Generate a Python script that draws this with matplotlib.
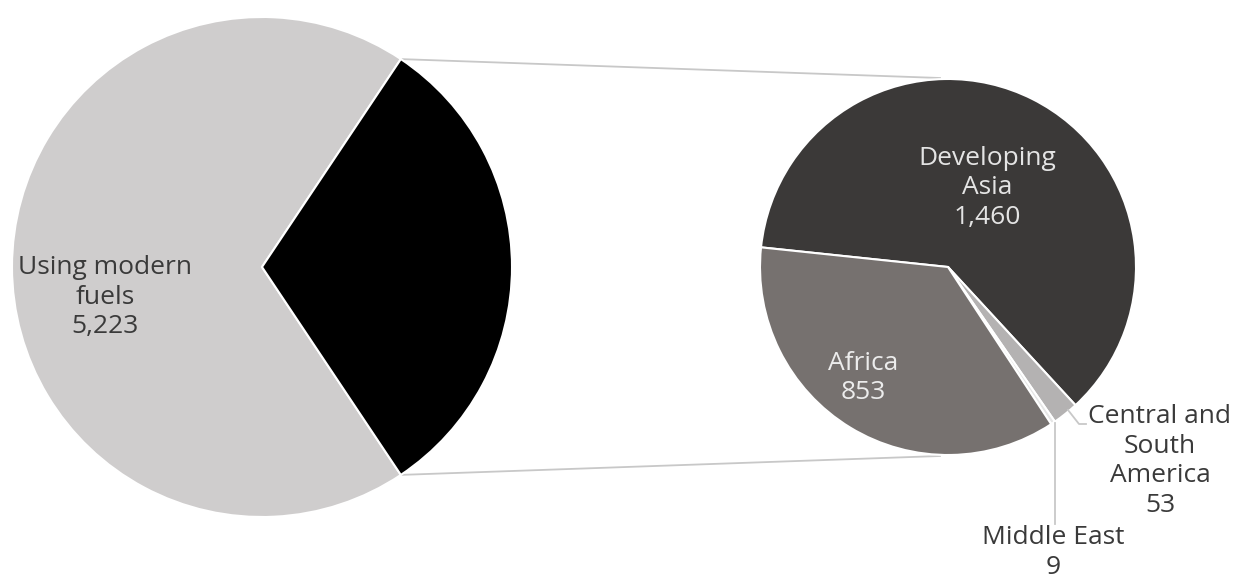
import numpy as np
import matplotlib
matplotlib.use("Agg")
import matplotlib.pyplot as plt

# people using modern fuels vs. relying on traditional biomass (millions)
regions = ["Developing Asia", "Central and South America", "Middle East", "Africa"]
region_values = [1460, 53, 9, 853]
modern_value = 5223

main_colors = ["#cfcdcd", "#000000"]
region_colors = ["#3b3938", "#b4b2b2", "#e6e6e6", "#76716f"]

W, H = 1236, 582
plt.rcParams["font.family"] = ["Open Sans", "DejaVu Sans"]

fig = plt.figure(figsize=(W / 100, H / 100), dpi=100)
ax = fig.add_axes([0, 0, 1, 1])

# left pie: modern fuels vs. the rest, the rest centred on the right side
rest = sum(region_values)
total = modern_value + rest
half = 180.0 * rest / total
c1, r1 = (262, H - 267), 250
ax.pie([modern_value, rest], colors=main_colors, startangle=half,
       center=c1, radius=r1, frame=True,
       wedgeprops=dict(edgecolor="white", linewidth=1.5))

# right pie: breakdown of the rest by region
c2, r2 = (948, H - 267), 188
ax.pie(region_values, colors=region_colors, startangle=174, counterclock=False,
       center=c2, radius=r2, frame=True,
       wedgeprops=dict(edgecolor="white", linewidth=1.5))
ax.set_xlim(0, W)
ax.set_ylim(0, H)
ax.set_aspect("equal")
ax.axis("off")

# connector lines from the black wedge to the top and bottom of the right pie
a = np.deg2rad(half)
for s in (1, -1):
    x0 = c1[0] + r1 * np.cos(a)
    y0 = c1[1] + s * r1 * np.sin(a)
    x1 = c2[0] - 8
    y1 = c2[1] + s * (r2 + 1)
    ax.plot([x0, x1], [y0, y1], color="#c8c8c8", lw=1.3, zorder=0)

fs = 19
ls = 1.25
ax.text(105, H - 297, "Using modern\nfuels\n" + f"{modern_value:,}", ha="center", va="center",
        fontsize=fs, color="#3a3a3a", linespacing=ls)
ax.text(987, H - 188, "Developing\nAsia\n" + f"{region_values[0]:,}", ha="center", va="center",
        fontsize=fs, color="#e4e4e4", linespacing=ls)
ax.text(863, H - 378, "Africa\n" + f"{region_values[3]:,}", ha="center", va="center",
        fontsize=fs, color="#ececec", linespacing=ls)
ax.text(1160, H - 461, "Central and\nSouth\nAmerica\n" + f"{region_values[1]:,}", ha="center",
        va="center", fontsize=fs, color="#3a3a3a", linespacing=ls)
ax.text(1053, H - 525, "Middle East\n" + f"{region_values[2]:,}", ha="center", va="top",
        fontsize=fs, color="#3a3a3a", linespacing=ls)

# leader lines for the two small slices
ax.plot([1055, 1055], [H - 423, H - 524], color="#c8c8c8", lw=1.3)
ax.plot([1068, 1079, 1086], [H - 410, H - 424, H - 424], color="#c8c8c8", lw=1.3)

fig.savefig("out.png", dpi=100, facecolor="white")
